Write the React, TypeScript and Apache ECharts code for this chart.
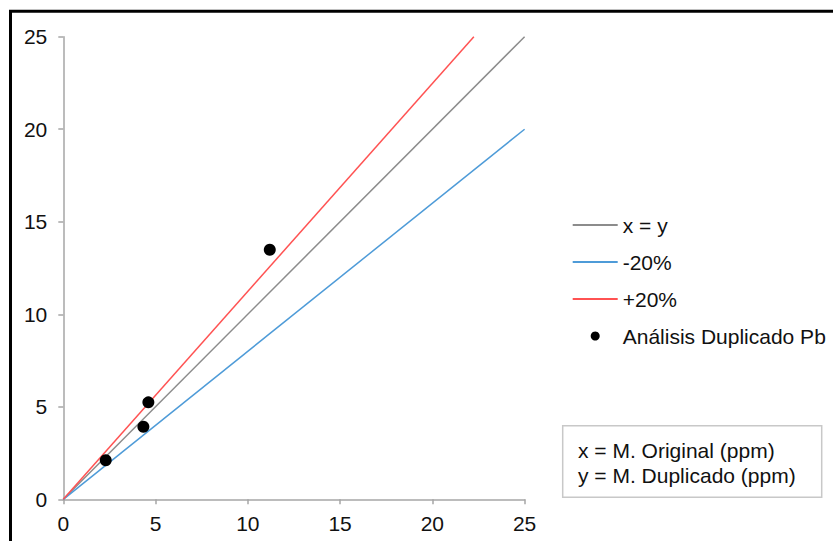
import React, { useEffect, useRef } from "react";
import * as echarts from "echarts";

const xyLineX = [0, 25];
const xyLineY = [0, 25];
const minusLineX = [0, 25];
const minusLineY = [0, 20];
const plusLineX = [0, 22.25];
const plusLineY = [0, 25];
const pointsX = [2.3, 4.34, 4.61, 11.19];
const pointsY = [2.11, 3.92, 5.24, 13.49];
const seriesNames = ["x = y", "-20%", "+20%", "Análisis Duplicado Pb"];
const noteLines = ["x = M. Original (ppm)", "y = M. Duplicado (ppm)"];

const zip = (xs: number[], ys: number[]) => xs.map((x, i) => [x, ys[i]]);

const FONT = "'Liberation Sans', Arial, sans-serif";

export default function App() {
  const ref = useRef<HTMLDivElement>(null);
  useEffect(() => {
    if (!ref.current) return;
    const chart = echarts.init(ref.current, undefined, { renderer: "svg" });
    const axisCommon = {
      type: "value" as const,
      min: 0,
      max: 25,
      interval: 5,
      splitLine: { show: false },
      axisLine: { show: true, lineStyle: { color: "#a6a6a6", width: 1.5 } },
      axisTick: { show: true, length: 5, lineStyle: { color: "#a6a6a6", width: 1.5 } },
    };
    chart.setOption({
      animation: false,
      backgroundColor: "#ffffff",
      textStyle: { fontFamily: FONT },
      grid: { left: 63.3, right: 308.4, top: 36.7, bottom: 41.7 },
      xAxis: {
        ...axisCommon,
        axisLabel: { fontSize: 21, color: "#111111", margin: 14, fontFamily: FONT },
      },
      yAxis: {
        ...axisCommon,
        axisLabel: { fontSize: 21, color: "#111111", margin: 16, fontFamily: FONT },
      },
      legend: {
        orient: "vertical",
        left: 571.7,
        top: 214.5,
        padding: 0,
        itemWidth: 45,
        itemHeight: 9,
        itemGap: 16,
        textStyle: { fontSize: 21, color: "#111111", fontFamily: FONT, lineHeight: 21 },
        data: [
          { name: seriesNames[0], itemStyle: { opacity: 0 } },
          { name: seriesNames[1], itemStyle: { opacity: 0 } },
          { name: seriesNames[2], itemStyle: { opacity: 0 } },
          { name: seriesNames[3], icon: "circle" },
        ],
      },
      series: [
        {
          name: seriesNames[0],
          type: "line",
          symbol: "none",
          data: zip(xyLineX, xyLineY),
          lineStyle: { color: "#8c8c8c", width: 1.5 },
          itemStyle: { color: "#8c8c8c" },
        },
        {
          name: seriesNames[1],
          type: "line",
          symbol: "none",
          data: zip(minusLineX, minusLineY),
          lineStyle: { color: "#4e9bd8", width: 1.5 },
          itemStyle: { color: "#4e9bd8" },
        },
        {
          name: seriesNames[2],
          type: "line",
          symbol: "none",
          data: zip(plusLineX, plusLineY),
          lineStyle: { color: "#ff5252", width: 1.5 },
          itemStyle: { color: "#ff5252" },
        },
        {
          name: seriesNames[3],
          type: "scatter",
          symbol: "circle",
          symbolSize: 12,
          data: zip(pointsX, pointsY),
          itemStyle: { color: "#000000", opacity: 1 },
          z: 5,
        },
      ],
      graphic: [
        {
          type: "line",
          shape: { x1: 9, y1: 11.3, x2: 833, y2: 11.3 },
          style: { stroke: "#000000", lineWidth: 3 },
        },
        {
          type: "line",
          shape: { x1: 10.5, y1: 10, x2: 10.5, y2: 541 },
          style: { stroke: "#000000", lineWidth: 3 },
        },
        {
          type: "rect",
          shape: { x: 562.7, y: 425.7, width: 259, height: 71.6 },
          style: { fill: "#ffffff", stroke: "#c8c8c8", lineWidth: 1.5 },
        },
        {
          type: "text",
          x: 578,
          y: 450.7,
          style: {
            text: noteLines[0],
            font: `21px ${FONT}`,
            fill: "#111111",
            verticalAlign: "middle",
          },
        },
        {
          type: "text",
          x: 578,
          y: 475,
          style: {
            text: noteLines[1],
            font: `21px ${FONT}`,
            fill: "#111111",
            verticalAlign: "middle",
          },
        },
      ],
    });
    return () => chart.dispose();
  }, []);
  return (
    <div
      ref={ref}
      style={{ position: "fixed", left: 0, top: 0, width: 833, height: 541 }}
    />
  );
}
